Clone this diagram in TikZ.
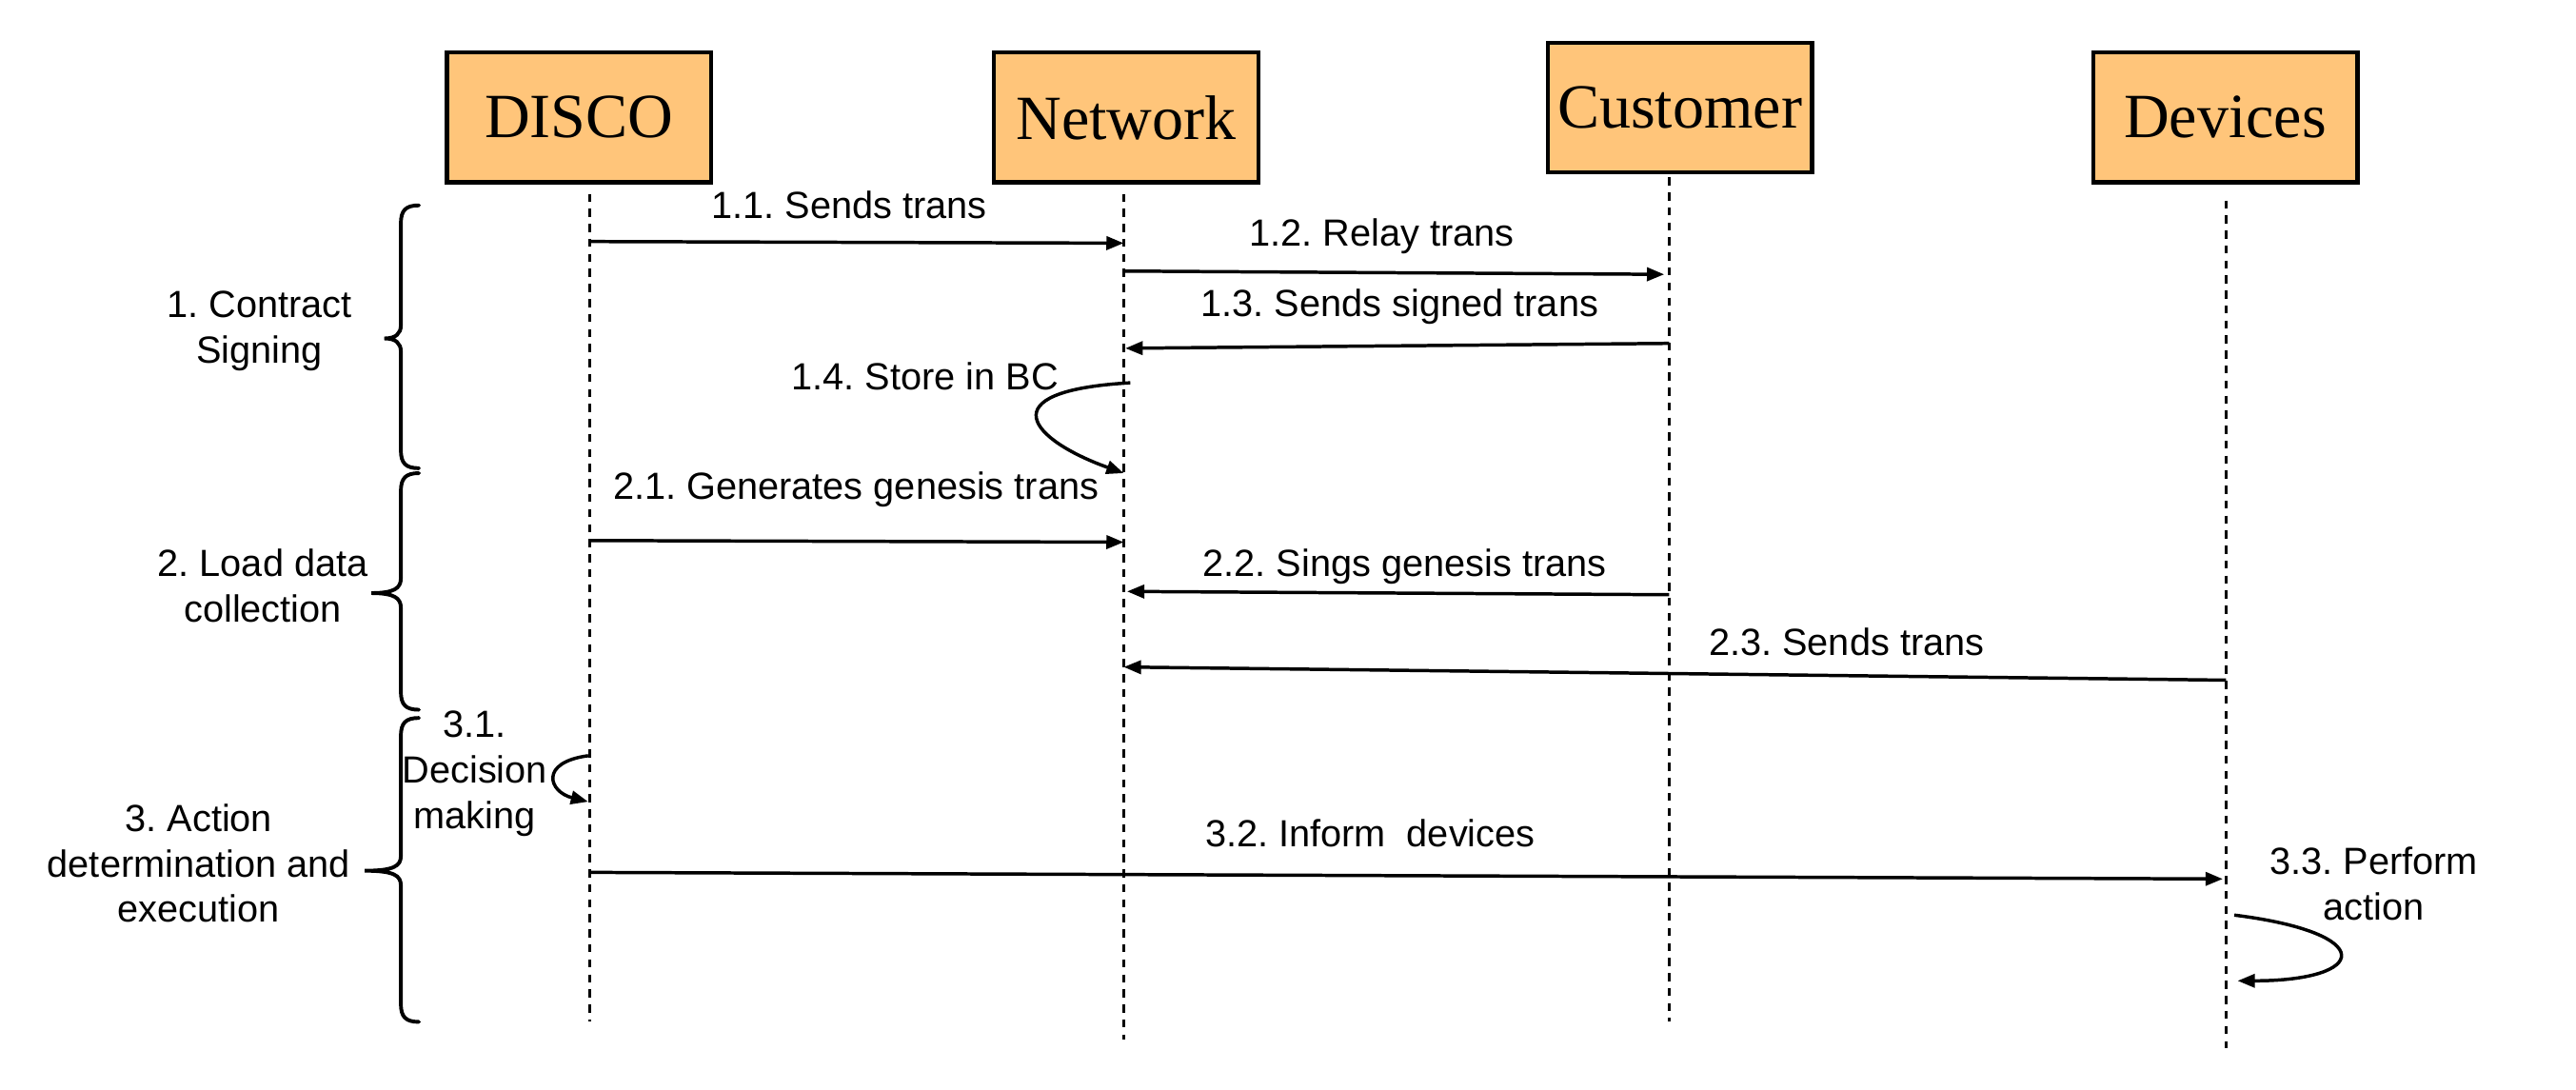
\documentclass[tikz,border=0pt]{standalone}
\usepackage{fontspec}
\setmainfont{Liberation Sans}
\newfontfamily\titlefont{Liberation Serif}
\usetikzlibrary{arrows.meta}
\frenchspacing
\definecolor{boxfill}{RGB}{255,197,122}
\tikzset{
  actor/.style={draw=black, line width=1.4pt, fill=boxfill, minimum width=3.22cm, minimum height=1.58cm, inner sep=0pt, font=\titlefont\fontsize{21.8}{26}\selectfont},
  lifeline/.style={line width=0.75pt, dash pattern=on 2.8pt off 2.4pt},
  msg/.style={line width=1.15pt, -{Triangle[length=6pt,width=4.6pt]}},
  lbl/.style={font=\fontsize{13.1}{15.7}\selectfont, align=center, inner sep=0pt},
  bracepath/.style={line width=1.3pt, line cap=round}
}
\begin{document}
\begin{tikzpicture}[x=0.02cm, y=-0.02cm]
\path[use as bounding box] (0,0) rectangle (1568,663);

% actors
\node[actor] (disco) at (352.5,71.5) {DISCO};
\node[actor] (net) at (685.5,71.5) {Network};
\node[actor] (cust) at (1022.5,65.5) {Customer};
\node[actor] (dev) at (1354.5,71.5) {Devices};

% lifelines
\coordinate (dT) at (359,118); \coordinate (dB) at (359,622);
\coordinate (nT) at (684,118); \coordinate (nB) at (684,633);
\coordinate (cT) at (1016,108); \coordinate (cB) at (1016,622);
\coordinate (vT) at (1355,122); \coordinate (vB) at (1355,638);
\draw[lifeline] (dT) -- (dB);
\draw[lifeline] (nT) -- (nB);
\draw[lifeline] (cT) -- (cB);
\draw[lifeline] (vT) -- (vB);

% message end points
\coordinate (m11a) at (359,147);  \coordinate (m11b) at (684,148);
\coordinate (m12a) at (684,165);  \coordinate (m12b) at (1013,167);
\coordinate (m13a) at (1016,209); \coordinate (m13b) at (685,212);
\coordinate (m14a) at (688,233);  \coordinate (m14b) at (684,288);
\coordinate (m21a) at (359,329);  \coordinate (m21b) at (684,330);
\coordinate (m22a) at (1016,362); \coordinate (m22b) at (686,360);
\coordinate (m23a) at (1355,414); \coordinate (m23b) at (684,406);
\coordinate (m31a) at (358,460);  \coordinate (m31b) at (358,488);
\coordinate (m32a) at (359,531);  \coordinate (m32b) at (1353,535);
\coordinate (m33a) at (1360,557); \coordinate (m33b) at (1362,597);

\draw[msg] (m11a) -- (m11b);
\draw[msg] (m12a) -- (m12b);
\draw[msg] (m13a) -- (m13b);
\draw[msg] (m14a) .. controls (600,238) and (628,268) .. (m14b);
\draw[msg] (m21a) -- (m21b);
\draw[msg] (m22a) -- (m22b);
\draw[msg] (m23a) -- (m23b);
\draw[msg] (m31a) .. controls (328,464) and (334,482) .. (m31b);
\draw[msg] (m32a) -- (m32b);
\draw[msg] (m33a) .. controls (1448,568) and (1442,597) .. (m33b);

% message labels
\node[lbl] (l11) at (517,125) {1.1. Sends trans};
\node[lbl] (l12) at (841,144) {1.2. Relay trans};
\node[lbl] (l13) at (852,187) {1.3. Sends signed trans};
\node[lbl] (l14) at (563,229) {1.4. Store in BC};
\node[lbl] (l21) at (521,298) {2.1. Generates genesis trans};
\node[lbl] (l22) at (855,345) {2.2. Sings genesis trans};
\node[lbl] (l23) at (1124,391) {2.3. Sends trans};
\node[lbl] (l31) at (289,471) {3.1.\\Decision\\making};
\node[lbl] (l32) at (834,507) {3.2. Inform\ \ devices};
\node[lbl] (l33) at (1445,538) {3.3. Perform\\action};

% phase labels
\node[lbl] (p1) at (158,201.5) {1. Contract\\Signing};
\node[lbl] (p2) at (160,356.5) {2. Load data\\collection};
\node[lbl] (p3) at (121,525.5) {3. Action\\determination and\\execution};

% braces
\draw[bracepath] (255,125) .. controls (247,125) and (244,128) .. (244,136)
  -- (244,198) .. controls (244,203) and (241,206) .. (234,206)
  .. controls (241,206) and (244,209) .. (244,214)
  -- (244,274) .. controls (244,282) and (247,285) .. (255,285);
\draw[bracepath] (255,288) .. controls (247,288) and (244,291) .. (244,299)
  -- (244,352) .. controls (244,358) and (240,361) .. (226,361)
  .. controls (240,361) and (244,364) .. (244,370)
  -- (244,421) .. controls (244,429) and (247,432) .. (255,432);
\draw[bracepath] (255,437) .. controls (247,437) and (244,440) .. (244,448)
  -- (244,521) .. controls (244,527) and (240,530) .. (222,530)
  .. controls (240,530) and (244,533) .. (244,539)
  -- (244,611) .. controls (244,619) and (247,622) .. (255,622);
\end{tikzpicture}
\end{document}
